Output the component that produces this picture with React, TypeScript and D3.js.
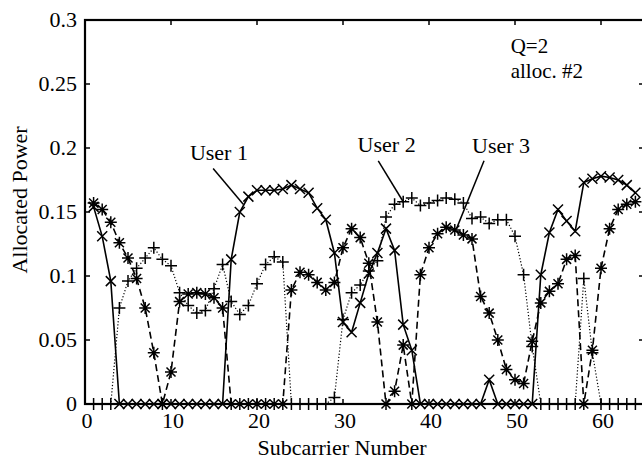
import React from "react";
import * as d3 from "d3";

// subcarrier index 1..64
const subcarriers = d3.range(1, 65);

// allocated power per subcarrier
const user1 = [
  0.154, 0.131, 0.096, 0, 0, 0, 0, 0, 0, 0, 0, 0, 0, 0, 0, 0,
  0.113, 0.15, 0.162, 0.167, 0.167, 0.167, 0.168, 0.171, 0.168, 0.165, 0.153, 0.144, 0.118, 0.064, 0.056, 0.079,
  0.102, 0.118, 0.137, 0.12, 0.062, 0.042, 0, 0, 0, 0, 0, 0, 0, 0, 0.019, 0,
  0, 0, 0, 0, 0.101, 0.134, 0.152, 0.143, 0.135, 0.173, 0.176, 0.178, 0.177, 0.175, 0.171, 0.165,
];

const user2 = [
  0, 0, 0, 0.075, 0.096, 0.106, 0.114, 0.122, 0.113, 0.108, 0.087, 0.077, 0.071, 0.073, 0.09, 0.109,
  0.08, 0.07, 0.077, 0.094, 0.109, 0.115, 0.111, 0, 0, 0, 0, 0, 0.005, 0.066, 0.087, 0.093,
  0.104, 0.112, 0.146, 0.156, 0.158, 0.161, 0.155, 0.157, 0.159, 0.161, 0.16, 0.157, 0.145, 0.146, 0.141, 0.144,
  0.144, 0.131, 0.101, 0.045, 0, 0, 0, 0, 0, 0.098, 0.04, 0, 0, 0, 0, 0,
];

const user3 = [
  0.157, 0.152, 0.142, 0.126, 0.114, 0.098, 0.075, 0.04, 0, 0.025, 0.08, 0.086, 0.087, 0.086, 0.083, 0.075,
  0, 0, 0, 0, 0, 0, 0, 0.089, 0.103, 0.101, 0.095, 0.089, 0.095, 0.122, 0.137, 0.13,
  0.11, 0.064, 0, 0.01, 0.046, 0, 0.101, 0.122, 0.133, 0.138, 0.136, 0.132, 0.129, 0.084, 0.071, 0.05,
  0.027, 0.019, 0.016, 0.049, 0.079, 0.088, 0.094, 0.113, 0.116, 0, 0.042, 0.106, 0.137, 0.152, 0.156, 0.158,
];

const xTicks = [0, 10, 20, 30, 40, 50, 60];
const yTicks = [0, 0.05, 0.1, 0.15, 0.2, 0.25, 0.3];
const yTickLabels = ["0", "0.05", "0.1", "0.15", "0.2", "0.25", "0.3"];

// callouts: label position + pointer line, in data units
const callouts = [
  { text: "User 1", tx: 12.2, ty: 0.191, from: [14.9, 0.184], to: [18.4, 0.156] },
  { text: "User 2", tx: 31.7, ty: 0.197, from: [34.1, 0.19], to: [37.0, 0.158] },
  { text: "User 3", tx: 45.0, ty: 0.196, from: [46.4, 0.19], to: [43.2, 0.137] },
];

const W = 642;
const H = 460;
const margin = { left: 85, top: 20, right: -2, bottom: 56 };
const FONT = "Liberation Serif";

const x = d3.scaleLinear().domain([0, 65]).range([margin.left, W - margin.right]);
const y = d3.scaleLinear().domain([0, 0.3]).range([H - margin.bottom, margin.top]);

const markerPath = {
  x: "M-5,-5L5,5M-5,5L5,-5",
  plus: "M-6,0H6M0,-6V6",
  star: "M-6,0H6M0,-6V6M-4.5,-4.5L4.5,4.5M-4.5,4.5L4.5,-4.5",
};

const series = [
  { name: "User 1", values: user1, dash: null, marker: markerPath.x, width: 1.6 },
  { name: "User 2", values: user2, dash: "1.2,2", marker: markerPath.plus, width: 1.2 },
  { name: "User 3", values: user3, dash: "7,4", marker: markerPath.star, width: 1.6 },
];

function Label(props: any) {
  const { children, size = 22, ...rest } = props;
  return (
    <text fontFamily={FONT} fontSize={size} fill="#000" {...rest}>
      {children}
    </text>
  );
}

export default function App() {
  const line = d3
    .line<number>()
    .x((_, i) => x(subcarriers[i]))
    .y((d) => y(d));

  const [x0, x1] = x.range();
  const [yb, yt] = y.range();

  return (
    <div style={{ position: "absolute", left: 0, top: 0, fontFamily: FONT }}>
      <svg width={W} height={H} fontFamily={FONT} style={{ display: "block", background: "#fff" }}>
        {/* series */}
        {series.map((s) => (
          <g key={s.name}>
            <path
              d={line(s.values) || ""}
              fill="none"
              stroke="#000"
              strokeWidth={s.width}
              strokeDasharray={s.dash || undefined}
            />
            {s.values.map((v, i) => (
              <path
                key={i}
                d={s.marker}
                transform={`translate(${x(subcarriers[i])},${y(v)})`}
                fill="none"
                stroke="#000"
                strokeWidth={1.5}
              />
            ))}
          </g>
        ))}

        {/* frame */}
        <rect x={x0} y={yt} width={x1 - x0} height={yb - yt} fill="none" stroke="#000" strokeWidth={2.2} />

        {/* x ticks */}
        {xTicks.map((t) => (
          <g key={t}>
            <line x1={x(t)} x2={x(t)} y1={yb} y2={yb - 5} stroke="#000" strokeWidth={1.5} />
            <line x1={x(t)} x2={x(t)} y1={yt} y2={yt + 5} stroke="#000" strokeWidth={1.5} />
            <Label x={x(t) + 2} y={yb + 24} textAnchor="middle">
              {t}
            </Label>
          </g>
        ))}

        {/* y ticks */}
        {yTicks.map((t, i) => (
          <g key={t}>
            <line x1={x0} x2={x0 + 5} y1={y(t)} y2={y(t)} stroke="#000" strokeWidth={1.5} />
            <line x1={x1} x2={x1 - 5} y1={y(t)} y2={y(t)} stroke="#000" strokeWidth={1.5} />
            <Label x={x0 - 8} y={y(t) + 7} textAnchor="end">
              {yTickLabels[i]}
            </Label>
          </g>
        ))}

        {/* axis titles */}
        <Label x={342} y={455} textAnchor="middle">
          Subcarrier Number
        </Label>
        <Label transform="translate(27,200) rotate(-90)" textAnchor="middle">
          Allocated Power
        </Label>

        {/* callouts */}
        {callouts.map((c) => (
          <g key={c.text}>
            <Label x={x(c.tx)} y={y(c.ty)}>
              {c.text}
            </Label>
            <line
              x1={x(c.from[0])}
              y1={y(c.from[1])}
              x2={x(c.to[0])}
              y2={y(c.to[1])}
              stroke="#000"
              strokeWidth={1.5}
            />
          </g>
        ))}

        <Label x={x(49.5)} y={y(0.274)} size={21}>
          Q=2
        </Label>
        <Label x={x(49.5)} y={y(0.255)} size={21}>
          alloc. #2
        </Label>
      </svg>
    </div>
  );
}
